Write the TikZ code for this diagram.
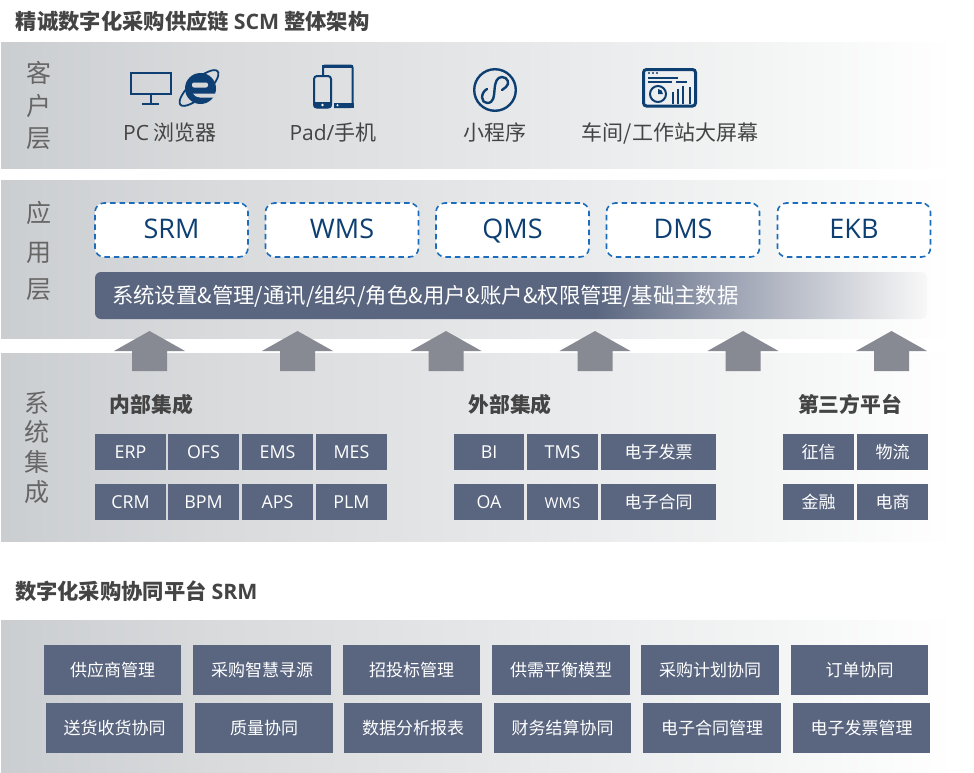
\documentclass[tikz,border=0pt]{standalone}
\usepackage{fontspec}
\setmainfont{Noto Sans CJK SC}
\newfontfamily\lat{Open Sans}
\definecolor{bandA}{HTML}{CBCED1}
\definecolor{bandB}{HTML}{D8DADC}
\definecolor{bandC}{HTML}{E5E6E8}
\definecolor{bandD}{HTML}{F2F3F3}
\definecolor{tileC}{HTML}{5A6680}
\definecolor{barB}{HTML}{A3A9B8}
\definecolor{barC}{HTML}{DDDFE3}
\definecolor{barD}{HTML}{F8F8F8}
\definecolor{navy}{HTML}{0E3F73}
\definecolor{dashC}{HTML}{1C6DBB}
\definecolor{arrowC}{HTML}{888A93}
\definecolor{titleC}{HTML}{444444}
\definecolor{sideC}{HTML}{666666}
\definecolor{ieback}{HTML}{D6D8DA}
\pgfdeclarehorizontalshading{bandshade}{100bp}{color(0bp)=(bandA); color(25bp)=(bandA); color(36bp)=(bandB); color(50bp)=(bandC); color(64bp)=(bandD); color(75bp)=(white); color(100bp)=(white)}
\pgfdeclarehorizontalshading{barshade}{100bp}{color(0bp)=(tileC); color(55bp)=(tileC); color(64bp)=(barB); color(71.5bp)=(barC); color(75bp)=(barD); color(100bp)=(barD)}
\tikzset{
  txt/.style={inner sep=0pt,outer sep=0pt},
  title/.style={txt,anchor=west,text height=18.7pt,text depth=2.6pt,font=\fontsize{21.3}{24}\selectfont\bfseries,text=titleC},
  head/.style={txt,text height=18.3pt,text depth=2.5pt,font=\fontsize{20.8}{24}\selectfont\bfseries,text=titleC},
  side/.style={txt,text height=22pt,text depth=3pt,font=\fontsize{25}{28}\selectfont,text=sideC},
  client/.style={txt,text height=18.5pt,text depth=2.5pt,font=\fontsize{21}{24}\selectfont,text=titleC},
  app/.style={draw=dashC,fill=white,line width=1.6pt,dash pattern=on 5.5pt off 4pt,rounded corners=9pt,
    inner sep=0pt,minimum width=153pt,minimum height=54pt,text height=19.3pt,text depth=1.5pt,text=navy,font=\lat\fontsize{27}{30}\selectfont},
  tile/.style={fill=tileC,inner sep=0pt,outer sep=0pt,text=white,text height=15pt,text depth=2pt},
  tilesm/.style={tile,font=\fontsize{17}{20}\selectfont},
  latin/.style={font=\lat\fontsize{17.8}{20}\selectfont},
  icon/.style={draw=navy,line width=2pt},
  flow/.style={fill=arrowC}
}
\newcommand{\tbox}[7][]{\path[] ({(#3+#4)/2},{(#5+#6)/2}) node[tilesm,#1,minimum width={#4-#3},minimum height={#6-#5}] (#2) {#7};}
\newcommand{\uparr}[2]{\fill[flow] (#2-35.5,351) -- (#2,331) -- (#2+35.5,351) -- (#2+17.5,351) -- (#2+17.5,371) -- (#2-17.5,371) -- (#2-17.5,351) -- cycle;}
\begin{document}
\begin{tikzpicture}[x=1pt,y=-1pt]
\useasboundingbox (0,0) rectangle (974,772);
% bands
\shade[shading=bandshade] (1,42) rectangle (955,168);
\shade[shading=bandshade] (1,180) rectangle (955,338);
\shade[shading=bandshade] (1,353) rectangle (955,541);
\shade[shading=bandshade] (1,620) rectangle (955,772);
% titles
\node[title] (t1) at (16,21) {精诚数字化采购供应链 {\lat SCM} 整体架构};
\node[title] (t2) at (15,591) {数字化采购协同平台 {\lat SRM}};
% side labels
\node[side] (k1) at (38.5,73) {客};
\node[side] (k2) at (38.5,106) {户};
\node[side] (k3) at (38.5,138) {层};
\node[side] (y1) at (38.5,213) {应};
\node[side] (y2) at (38.5,252) {用};
\node[side] (y3) at (38.5,289) {层};
\node[side] (x1) at (37,403) {系};
\node[side] (x2) at (37,432) {统};
\node[side] (x3) at (37,462) {集};
\node[side] (x4) at (37,492) {成};
% client labels
\node[client] (c1) at (170,132) {{\lat PC} 浏览器};
\node[client] (c2) at (333,132) {{\lat Pad/}手机};
\node[client] (c3) at (495,132) {小程序};
\node[client] (c4) at (670,132) {车间/工作站大屏幕};
% monitor
\draw[icon] (131,73) rectangle (171,94);
\draw[icon] (150.5,94) -- (150.5,104);
\draw[icon] (142,104) -- (159,104);
% IE logo
\draw[navy,line width=1.8pt,rotate around={42:(199,88)}] (199,88) ellipse[x radius=25,y radius=8.5];
\fill[navy] (200.5,88.5) circle (15.5);
\fill[ieback,rounded corners=2pt] (192,82.5) rectangle (208,87.5);
\fill[ieback] (193,93.5) -- (218,93.5) -- (218,97.5) -- (200,97.5) .. controls (197,97.5) and (194.5,96) .. cycle;
% tablet and phone
\draw[icon,rounded corners=2pt] (323,75) -- (323,65.5) -- (352.5,65.5) -- (352.5,107) -- (334,107);
\fill[navy] (334,102.5) rectangle (353.5,108);
\fill[white] (337.5,105.2) circle (1.2);
\fill[navy] (322,64.5) rectangle (353,67.5);
\draw[icon,rounded corners=3pt] (314,76) rectangle (331,107.5);
\fill[navy,rounded corners=1.5pt] (313.5,102) rectangle (331.5,108);
\fill[white] (322.5,105) circle (1.3);
% mini program
\draw[navy,line width=2.4pt] (495,90) circle (20.8);
\draw[navy,line width=2.4pt,line cap=round] (487,89) .. controls (480,93) and (481,103) .. (487,103) .. controls (494,103) and (494,96) .. (494.5,90) .. controls (495,82) and (497,77) .. (502,77) .. controls (508,77) and (510,84) .. (506,87) -- (502,90);
% dashboard
\draw[navy,line width=3pt,rounded corners=3pt] (643.5,69.5) rectangle (695.5,106);
\foreach \q in {649,653,657}{\fill[navy] (\q,73) circle (1.1);}
\fill[navy] (648,77) rectangle (678,79);
\fill[navy] (648,81) rectangle (672,83);
\fill[navy] (676,81) rectangle (687,83);
\draw[navy,line width=2pt] (658,94) circle (8);
\fill[navy] (658,94) -- (658,89) arc[start angle=-90,end angle=0,radius=5] -- cycle;
\fill[navy] (672,92) rectangle (674,104);
\fill[navy] (677,89) rectangle (679,104);
\fill[navy] (682,86) rectangle (684,104);
\fill[navy] (689,87) rectangle (691,104);
% app boxes
\node[app] (srm) at (171.5,230) {SRM};
\node[app] (wms) at (342,230) {WMS};
\node[app] (qms) at (512.5,230) {QMS};
\node[app] (dms) at (683,230) {DMS};
\node[app] (ekb) at (854,230) {EKB};
% bar
\shade[shading=barshade,rounded corners=6pt] (95,272) rectangle (927,319);
\node[txt,anchor=west,text height=18.8pt,text depth=2.6pt,text=white,font=\fontsize{21.4}{24}\selectfont] (bar) at (112,295) {系统设置\&管理/通讯/组织/角色\&用户\&账户\&权限管理/基础主数据};
% arrows
\uparr{1}{149.5}\uparr{2}{297.5}\uparr{3}{446}\uparr{4}{595}\uparr{5}{743}\uparr{6}{891.5}
% integration heads
\node[head] (h1) at (151.5,405) {内部集成};
\node[head] (h2) at (510,405) {外部集成};
\node[head] (h3) at (850,405) {第三方平台};
% internal
\tbox[latin]{a1}{95}{166}{434}{470}{ERP}
\tbox[latin]{a2}{168}{239}{434}{470}{OFS}
\tbox[latin]{a3}{242}{313}{434}{470}{EMS}
\tbox[latin]{a4}{316}{387}{434}{470}{MES}
\tbox[latin]{a5}{95}{166}{484}{520}{CRM}
\tbox[latin]{a6}{168}{239}{484}{520}{BPM}
\tbox[latin]{a7}{242}{313}{484}{520}{APS}
\tbox[latin]{a8}{316}{387}{484}{520}{PLM}
% external
\tbox[latin]{b1}{454}{524}{434}{470}{BI}
\tbox[latin]{b2}{527}{598}{434}{470}{TMS}
\tbox{b3}{601}{716}{434}{470}{电子发票}
\tbox[latin]{b4}{454}{524}{484}{520}{OA}
\tbox[font=\lat\fontsize{15}{18}\selectfont]{b5}{527}{598}{484}{520}{WMS}
\tbox{b6}{601}{716}{484}{520}{电子合同}
% third party
\tbox{d1}{783}{854}{434}{470}{征信}
\tbox{d2}{857}{928}{434}{470}{物流}
\tbox{d3}{783}{854}{484}{520}{金融}
\tbox{d4}{857}{928}{484}{520}{电商}
% SRM platform
\tbox{s1}{44}{181}{645}{695}{供应商管理}
\tbox{s2}{193}{331}{645}{695}{采购智慧寻源}
\tbox{s3}{343}{480}{645}{695}{招投标管理}
\tbox{s4}{492}{630}{645}{695}{供需平衡模型}
\tbox{s5}{641}{779}{645}{695}{采购计划协同}
\tbox{s6}{791}{928}{645}{695}{订单协同}
\tbox{s7}{46}{183}{703}{753}{送货收货协同}
\tbox{s8}{195}{333}{703}{753}{质量协同}
\tbox{s9}{344}{482}{703}{753}{数据分析报表}
\tbox{s10}{494}{631}{703}{753}{财务结算协同}
\tbox{s11}{643}{781}{703}{753}{电子合同管理}
\tbox{s12}{793}{930}{703}{753}{电子发票管理}
\end{tikzpicture}
\end{document}
